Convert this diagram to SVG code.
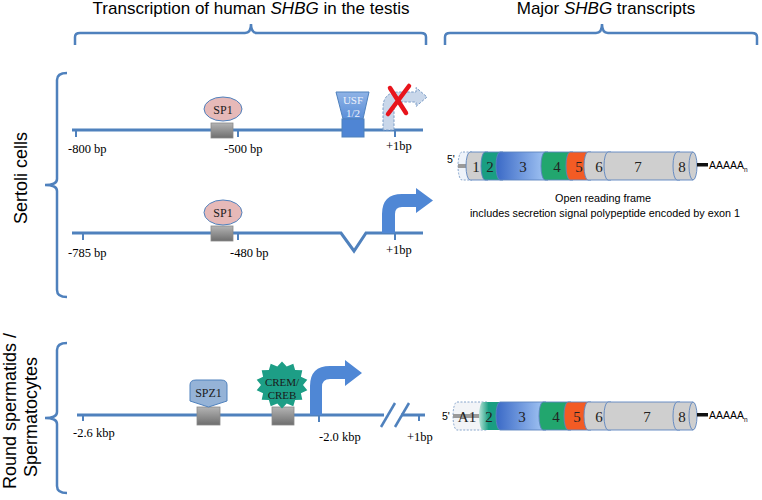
<svg xmlns="http://www.w3.org/2000/svg" width="762" height="500" viewBox="0 0 762 500">
<defs>
<style>
.brace{fill:none;stroke:#4f81bd;stroke-width:2.5}
.dna{fill:none;stroke:#4f81bd;stroke-width:3}
.tick{stroke:#4f81bd;stroke-width:2}
.hdr{font-family:"Liberation Sans",Arial,sans-serif;font-size:17px;fill:#000}
.side{font-family:"Liberation Sans",Arial,sans-serif;font-size:18px;fill:#000}
.pos{font-family:"Liberation Serif","Times New Roman",serif;font-size:12.5px;fill:#000}
.tf{font-family:"Liberation Serif","Times New Roman",serif;font-size:12px;fill:#1a1a1a;text-anchor:middle}
.tfs{font-family:"Liberation Serif","Times New Roman",serif;font-size:11px;fill:#1a1a1a;text-anchor:middle}
.ex{font-family:"Liberation Serif","Times New Roman",serif;font-size:15px;fill:#222;text-anchor:middle}
.cap{font-family:"Liberation Sans",Arial,sans-serif;font-size:10.8px;fill:#000;text-anchor:middle}
.small{font-family:"Liberation Sans",Arial,sans-serif;font-size:10.5px;fill:#000}
.seg{stroke:#5b84c0;stroke-width:0.9}
.box{fill:url(#gbox);stroke:#8a8a8a;stroke-width:0.8}
</style>
<linearGradient id="gbox" x1="0" y1="0" x2="0" y2="1"><stop offset="0" stop-color="#b4b4b4"/><stop offset="1" stop-color="#6e6e6e"/></linearGradient>
<linearGradient id="gblue" x1="0" y1="0" x2="1" y2="0"><stop offset="0" stop-color="#3a69c6"/><stop offset="1" stop-color="#a6c8f5"/></linearGradient>
<linearGradient id="gteal" x1="0" y1="0" x2="1" y2="0"><stop offset="0" stop-color="#b9e3d8"/><stop offset="0.4" stop-color="#1a9e82"/><stop offset="1" stop-color="#1a9e82"/></linearGradient>
<linearGradient id="gusf" x1="0" y1="0" x2="0" y2="1"><stop offset="0" stop-color="#8fb3e6"/><stop offset="1" stop-color="#5a8ed8"/></linearGradient>
</defs>
<rect width="762" height="500" fill="#fff"/>

<g id="headers">
<text class="hdr" x="251" y="14" text-anchor="middle">Transcription of human <tspan font-style="italic">SHBG</tspan> in the testis</text>
<text class="hdr" x="606" y="14" text-anchor="middle">Major <tspan font-style="italic">SHBG</tspan> transcripts</text>
<path class="brace" d="M75,45 L75,37 Q75,33 80,33 L245,33 Q251,33 251,24 Q251,33 257,33 L421,33 Q426,33 426,37 L426,45"/>
<path class="brace" d="M445,45 L445,37 Q445,33 450,33 L596,33 Q602,33 602,24 Q602,33 608,33 L752,33 Q757,33 757,37 L757,45"/>
</g>

<g id="side-labels">
<path class="brace" d="M67,73 Q57,73 57,80 L57,179 Q57,185 45,185 Q57,185 57,191 L57,290 Q57,297 67,297"/>
<text class="side" transform="translate(27,178) rotate(-90)" text-anchor="middle">Sertoli cells</text>
<path class="brace" d="M67,343 Q57,343 57,350 L57,412 Q57,418 45,418 Q57,418 57,424 L57,486 Q57,493 67,493"/>
<text class="side" transform="translate(16,411) rotate(-90)" text-anchor="middle">Round spermatids /</text>
<text class="side" transform="translate(37,417) rotate(-90)" text-anchor="middle">Spermatocytes</text>
</g>

<g id="connectors">
<line class="dna" x1="72" y1="130" x2="423" y2="130"/>
<path class="dna" d="M72,233 L341,233 L354,251 L366,233 L423,233"/>
<path class="dna" d="M77,415 L384,415 M401,415 L425,415"/>
<line x1="381" y1="427" x2="395" y2="403" stroke="#4f81bd" stroke-width="2.5"/>
<line x1="395" y1="427" x2="409" y2="403" stroke="#4f81bd" stroke-width="2.5"/>
<g class="tick">
<line x1="76" y1="130" x2="76" y2="137"/><line x1="238" y1="130" x2="238" y2="137"/><line x1="395" y1="130" x2="395" y2="137"/>
<line x1="83" y1="233" x2="83" y2="240"/><line x1="238" y1="233" x2="238" y2="240"/><line x1="395" y1="233" x2="395" y2="240"/>
<line x1="83" y1="415" x2="83" y2="421"/><line x1="319" y1="415" x2="319" y2="422"/><line x1="419" y1="415" x2="419" y2="421"/>
</g>
</g>

<g id="positions">
<text class="pos" x="68" y="153">-800 bp</text>
<text class="pos" x="224" y="153">-500 bp</text>
<text class="pos" x="386" y="150">+1bp</text>
<text class="pos" x="68" y="257">-785 bp</text>
<text class="pos" x="230" y="257">-480 bp</text>
<text class="pos" x="386" y="254">+1bp</text>
<text class="pos" x="73" y="437">-2.6 kbp</text>
<text class="pos" x="319" y="441">-2.0 kbp</text>
<text class="pos" x="407" y="441">+1bp</text>
</g>

<g id="sp1-a">
<rect class="box" x="211" y="123" width="22" height="15"/>
<ellipse cx="223" cy="109" rx="19" ry="12" fill="#e6b9b8" stroke="#4f81bd" stroke-width="1"/>
<text class="tf" x="223" y="113.5">SP1</text>
</g>
<g id="usf">
<path d="M336,92 L369,92 L363,119 L343,119 Z" fill="url(#gusf)" stroke="#4f81bd" stroke-width="1"/>
<rect x="342" y="119" width="22" height="18" fill="#4f85d4" stroke="#4f81bd" stroke-width="1"/>
<text class="tfs" x="353" y="103.5" style="fill:#eef2fb">USF</text>
<text class="tfs" x="353" y="116.5" style="fill:#eef2fb">1/2</text>
</g>
<g id="tss-inactive">
<path d="M383,130 L383,108 Q383,92 399,92 L416,92 L416,87.5 L427,97 L416,106.5 L416,102 L399,102 Q394,102 394,108 L394,130 Z" fill="#c9d7ea" stroke="#7a9cc6" stroke-width="1" stroke-dasharray="2.5,1.5"/>
<path d="M388,114 L409,86 M390,88 L406,113" stroke="#e8141c" stroke-width="4.5" stroke-linecap="round" fill="none"/>
</g>

<g id="sp1-b">
<rect class="box" x="211" y="226" width="22" height="15"/>
<ellipse cx="223" cy="212.5" rx="19" ry="12.5" fill="#e6b9b8" stroke="#4f81bd" stroke-width="1"/>
<text class="tf" x="223" y="217">SP1</text>
</g>
<g id="tss-active">
<path d="M382,233 L382,214 Q382,194 402,194 L416,194 L416,188 L433,200.5 L416,213 L416,207 L402,207 Q395,207 395,214 L395,233 Z" fill="#4f87d5"/>
</g>

<g id="spz1">
<rect class="box" x="197" y="407" width="23" height="18"/>
<path d="M190,401 L190,385 Q190,380 196,380 L221,380 Q227,380 227,385 L227,401 L208.5,407 Z" fill="#95b3d7" stroke="#4f81bd" stroke-width="1"/>
<text class="tf" x="208.5" y="397">SPZ1</text>
</g>
<g id="crem">
<rect class="box" x="272" y="407" width="22" height="18"/>
<polygon points="282,361.5 286.7,366.5 293.3,363.8 295.1,370.1 302.3,370.3 300.9,376.8 307.3,379.8 303,385 307.3,390.2 300.9,393.2 302.3,399.7 295.1,399.9 293.3,406.2 286.7,403.5 282,408.5 277.3,403.5 270.7,406.2 268.9,399.9 261.7,399.7 263.1,393.2 256.7,390.2 261,385 256.7,379.8 263.1,376.8 261.7,370.3 268.9,370.1 270.7,363.8 277.3,366.5" fill="#1d9e86"/>
<text class="tfs" x="282" y="385.5">CREM/</text>
<text class="tfs" x="282" y="398.5">CREB</text>
</g>
<g id="tss-germ">
<path d="M310,415 L310,386 Q310,366 330,366 L345,366 L345,360 L362,373 L345,386 L345,379 L330,379 Q322,379 322,387 L322,415 Z" fill="#4f87d5"/>
</g>

<g id="transcript-sertoli">
<text class="small" x="447" y="163">5'</text>
<path d="M472,152 L462,152 A4,14 0 0 0 462,180 L472,180" fill="#eef3fa" stroke="#7a9cc6" stroke-width="0.9" stroke-dasharray="2,1.5"/>
<rect x="458" y="164" width="14" height="4" fill="#9a9a9a"/>
<path class="seg" d="M470,152 A4,14 0 0 0 470,180 L488,180 L488,152 Z" fill="#cfcfcf"/>
<path class="seg" d="M485,152 A4,14 0 0 0 485,180 L503,180 L503,152 Z" fill="#1a9e82"/>
<path class="seg" d="M500,152 A4,14 0 0 0 500,180 L548,180 L548,152 Z" fill="url(#gblue)"/>
<path class="seg" d="M545,152 A4,14 0 0 0 545,180 L573,180 L573,152 Z" fill="#22a66e"/>
<path class="seg" d="M570,152 A4,14 0 0 0 570,180 L591,180 L591,152 Z" fill="#f35b24"/>
<path class="seg" d="M588,152 A4,14 0 0 0 588,180 L611,180 L611,152 Z" fill="#cfcfcf"/>
<path class="seg" d="M608,152 A4,14 0 0 0 608,180 L680,180 L680,152 Z" fill="#cfcfcf"/>
<path class="seg" d="M677,152 A4,14 0 0 0 677,180 L693,180 L693,152 Z" fill="#cfcfcf"/>
<ellipse class="seg" cx="693" cy="166" rx="4" ry="14" fill="#cfcfcf"/>
<rect x="697" y="163" width="11" height="3.5" fill="#111"/>
<text class="ex" x="476" y="171.5">1</text>
<text class="ex" x="490" y="171.5">2</text>
<text class="ex" x="523" y="171.5">3</text>
<text class="ex" x="557" y="171.5">4</text>
<text class="ex" x="579" y="171.5">5</text>
<text class="ex" x="599" y="171.5">6</text>
<text class="ex" x="638" y="171.5">7</text>
<text class="ex" x="682" y="171.5">8</text>
<text class="small" x="709" y="169">AAAAA<tspan font-size="6.5" dy="2.5">n</tspan></text>
<text class="cap" x="603" y="202">Open reading frame</text>
<text class="cap" x="605" y="217">includes secretion signal polypeptide encoded by exon 1</text>
</g>

<g id="transcript-germ">
<text class="small" x="442" y="420">5'</text>
<path d="M487,402 L457,402 A4,14 0 0 0 457,430 L487,430" fill="#f2f4f7" stroke="#7a9cc6" stroke-width="0.9" stroke-dasharray="2,1.5"/>
<rect x="453" y="414" width="33" height="4" fill="#9a9a9a"/>
<text class="ex" x="467" y="421.5">A1</text>
<path d="M483,402 A4,14 0 0 0 483,430 L503,430 L503,402 Z" fill="url(#gteal)"/>
<path class="seg" d="M500,402 A4,14 0 0 0 500,430 L546,430 L546,402 Z" fill="url(#gblue)"/>
<path class="seg" d="M543,402 A4,14 0 0 0 543,430 L571,430 L571,402 Z" fill="#22a66e"/>
<path class="seg" d="M568,402 A4,14 0 0 0 568,430 L591,430 L591,402 Z" fill="#f35b24"/>
<path class="seg" d="M588,402 A4,14 0 0 0 588,430 L611,430 L611,402 Z" fill="#cfcfcf"/>
<path class="seg" d="M608,402 A4,14 0 0 0 608,430 L680,430 L680,402 Z" fill="#cfcfcf"/>
<path class="seg" d="M677,402 A4,14 0 0 0 677,430 L693,430 L693,402 Z" fill="#cfcfcf"/>
<ellipse class="seg" cx="693" cy="416" rx="4" ry="14" fill="#cfcfcf"/>
<rect x="697" y="413" width="11" height="3.5" fill="#111"/>
<text class="ex" x="489" y="421.5">2</text>
<text class="ex" x="522" y="421.5">3</text>
<text class="ex" x="556" y="421.5">4</text>
<text class="ex" x="577" y="421.5">5</text>
<text class="ex" x="599" y="421.5">6</text>
<text class="ex" x="647" y="421.5">7</text>
<text class="ex" x="682" y="421.5">8</text>
<text class="small" x="709" y="419">AAAAA<tspan font-size="6.5" dy="2.5">n</tspan></text>
</g>
</svg>
